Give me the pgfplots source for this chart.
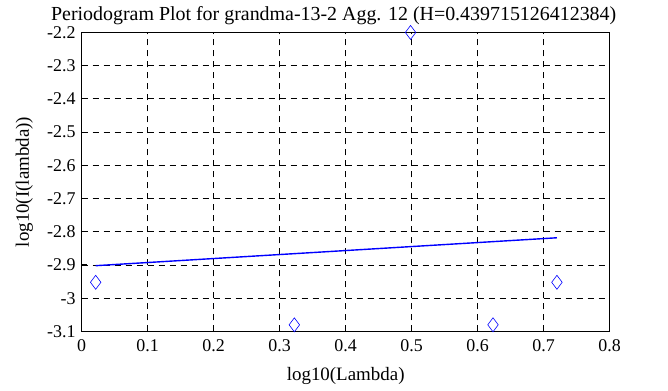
\documentclass[border=0pt]{standalone}
\usepackage{pgfplots}
\pgfplotsset{compat=1.18}
\usepackage{fontspec}
\setmainfont{Liberation Serif}
\begin{document}
\fontsize{18}{21}\selectfont
\begin{tikzpicture}
\begin{axis}[
  scale only axis,
  width=528bp, height=299bp,
  xmin=0, xmax=0.8, ymin=-3.1, ymax=-2.2,
  xtick={0,0.1,...,0.8},
  ytick={-3.1,-3,-2.9,-2.8,-2.7,-2.6,-2.5,-2.4,-2.3,-2.2},
  /pgf/number format/assume math mode=true,
  /pgf/number format/fixed,
  /pgf/number format/precision=1,
  tick label style={font=\fontsize{18}{21}\selectfont},
  xticklabel style={yshift=-2bp},
  label style={font=\fontsize{19}{22}\selectfont},
  title style={font=\fontsize{20}{23}\selectfont, yshift=-4bp, xshift=-12bp},
  title={Periodogram Plot for grandma-13-2 Agg. 12 (H=0.439715126412384)},
  xlabel={log10(Lambda)},
  ylabel={log10(I(lambda))},
  xlabel style={yshift=-3bp},
  ylabel style={yshift=2bp},
  axis line style={line width=1.6bp},
  tick style={line width=1.2bp, black},
  major tick length=5bp,
  tick align=inside,
  xtick pos=bottom, ytick pos=left,
  grid=major,
  major grid style={black, line width=0.8bp, dash pattern=on 6bp off 5bp},
  clip=false,
]
\addplot[blue, only marks, mark=diamond, mark size=7bp, mark options={line width=0.6bp}]
  coordinates {(0.0212,-2.952) (0.3222,-3.080) (0.4983,-2.200) (0.6232,-3.080) (0.7201,-2.952)};
\addplot[blue, line width=1.4bp] coordinates {(0.0212,-2.902) (0.7201,-2.818)};
\end{axis}
\path (current axis.south west) ++(-81.7bp,-56bp) rectangle ++(668bp,387bp);
\end{tikzpicture}
\end{document}
